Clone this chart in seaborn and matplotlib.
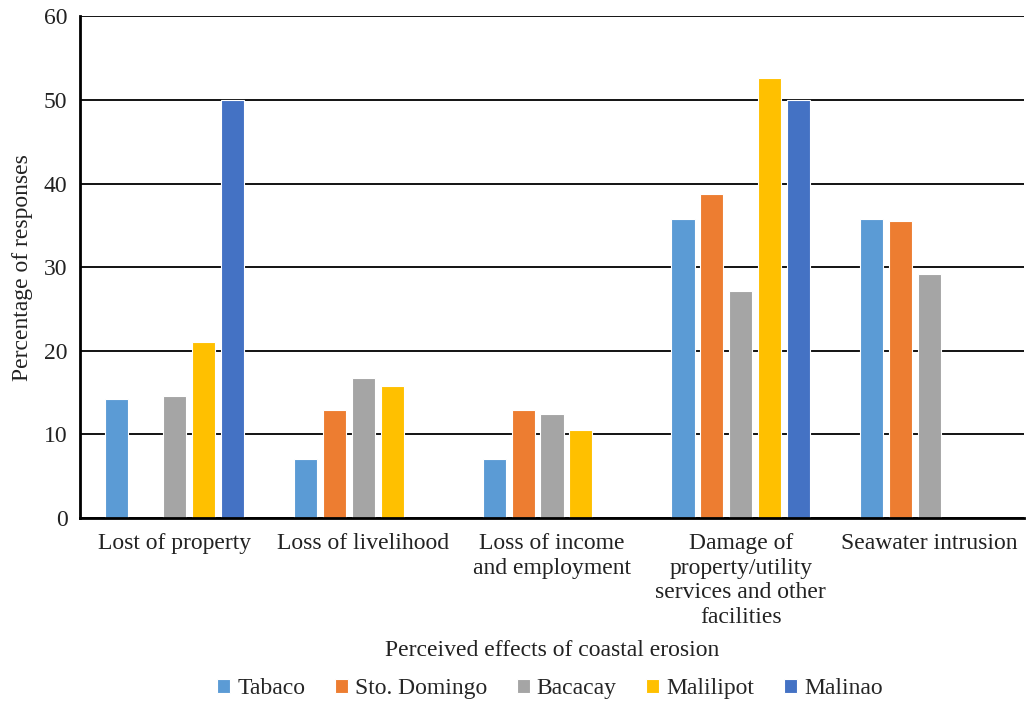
import matplotlib
matplotlib.use("Agg")
import matplotlib.pyplot as plt
import seaborn as sns
import pandas as pd

categories = [
    "Lost of property",
    "Loss of livelihood",
    "Loss of income\nand employment",
    "Damage of\nproperty/utility\nservices and other\nfacilities",
    "Seawater intrusion",
]
sites = ["Tabaco", "Sto. Domingo", "Bacacay", "Malilipot", "Malinao"]
tabaco = [14.3, 7.1, 7.1, 35.7, 35.7]
sto_domingo = [0.0, 12.9, 12.9, 38.7, 35.5]
bacacay = [14.6, 16.7, 12.5, 27.1, 29.2]
malilipot = [21.1, 15.8, 10.5, 52.6, 0.0]
malinao = [50.0, 0.0, 0.0, 50.0, 0.0]
colors = ["#5B9BD5", "#ED7D31", "#A5A5A5", "#FFC000", "#4472C4"]

series = [tabaco, sto_domingo, bacacay, malilipot, malinao]
rows = []
for site, vals in zip(sites, series):
    for cat, v in zip(categories, vals):
        rows.append({"effect": cat, "site": site, "pct": v})
df = pd.DataFrame(rows)

sns.set_theme(style="white")
plt.rcParams["font.family"] = ["Liberation Serif", "DejaVu Serif"]

FS = 17
TXT = "#222222"

fig = plt.figure(figsize=(10.26, 7.04), dpi=100)
ax = fig.add_axes([0.078, 0.264, 0.920, 0.713])

sns.barplot(data=df, x="effect", y="pct", hue="site", order=categories,
            hue_order=sites, palette=colors, saturation=1, width=0.765,
            gap=0.2, edgecolor="white", linewidth=0.8, ax=ax, legend=True)

ax.set_ylim(0, 60)
ax.set_yticks(range(0, 61, 10))
ax.yaxis.grid(True, color="black", linewidth=1.3)
ax.set_axisbelow(True)
for s in ["top", "right"]:
    ax.spines[s].set_visible(False)
for s in ["left", "bottom"]:
    ax.spines[s].set_color("black")
    ax.spines[s].set_linewidth(2)
ax.tick_params(axis="both", length=0, labelsize=FS, colors=TXT)
ax.tick_params(axis="y", pad=9)
ax.tick_params(axis="x", pad=11)
for lbl in ax.get_xticklabels():
    lbl.set_linespacing(1.22)

ax.set_ylabel("Percentage of responses", fontsize=FS, color=TXT, labelpad=8)
ax.set_xlabel("Perceived effects of coastal erosion", fontsize=FS,
              color=TXT, labelpad=9)

ax.legend_.remove()
handles, labels = ax.get_legend_handles_labels()
fig.legend(handles[:5], labels[:5], loc="center", bbox_to_anchor=(0.536, 0.022),
           ncol=5, frameon=False, fontsize=FS, handlelength=0.55,
           handleheight=0.55, handletextpad=0.3, columnspacing=1.25)

fig.savefig("out.png", dpi=100)
